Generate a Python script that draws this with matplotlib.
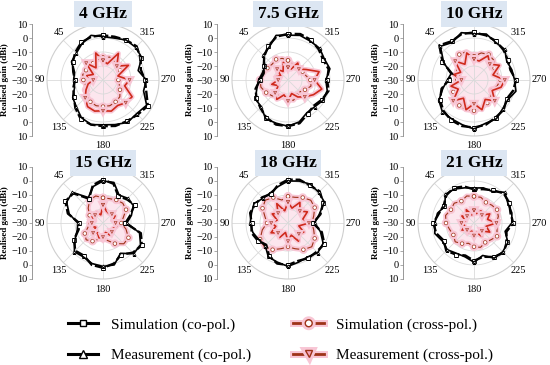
import numpy as np
import matplotlib
matplotlib.use("Agg")
import matplotlib.pyplot as plt
import matplotlib.patheffects as pe
from matplotlib.lines import Line2D

plt.rcParams['font.family'] = 'Liberation Serif'

# angle of each sample (deg), 0 at top, counter-clockwise
angles = [0, 15, 30, 45, 60, 75, 90, 105, 120, 135, 150, 165,
          180, 195, 210, 225, 240, 255, 270, 285, 300, 315, 330, 345]

titles = ["4 GHz", "7.5 GHz", "10 GHz", "15 GHz", "18 GHz", "21 GHz"]

# realised gain (dBi)
sim_co_4 = [2, 2, 1, -2, -5, -8, -10, -8, -6, -2, 2, 3, 3, 4, 4, 5, 7, 2, 0, -2, 1, 4, 3, 2]
meas_co_4 = [1, 3, 0, -3, -4, -9, -9, -9, -5, -3, 1, 3, 2, 3, 5, 4, 6, 0, 1, -4, 2, 3, 3, 1]
sim_x_4 = [-14, -15, -16, -17, -16, -15, -16, -17, -16, -14, -12, -11, -11, -11, -12, -13, -16, -18, -19, -18, -16, -14, -13, -13]
meas_x_4 = [-16, -10, -20, -13, -22, -18, -23, -19, -16, -12, -8, -7, -8, -7, -9, -7, -6, -14, -11, -19, -9, -16, -8, -18]

sim_co_7 = [3, 2, -2, -6, -10, -12, -10, -6, -4, -2, 1, 3, 3, 2, -2, -4, -2, 0, -2, 0, -1, 1, 3, 4]
meas_co_7 = [2, 3, -3, -5, -11, -11, -9, -7, -3, -3, 2, 2, 3, 1, -3, -3, -1, -1, -3, 1, 0, 2, 2, 3]
sim_x_7 = [-16, -14, -13, -14, -13, -12, -10, -10, -12, -14, -16, -17, -16, -15, -17, -18, -16, -13, -14, -17, -18, -18, -19, -18]
meas_x_7 = [-21, -17, -23, -19, -24, -21, -23, -18, -22, -17, -14, -19, -15, -20, -16, -13, -9, -5, -11, -7, -15, -19, -16, -22]

sim_co_10 = [4, 4, 2, 5, -4, -14, -12, -6, -2, 1, 3, 4, 4, 3, 1, 0, -3, -1, 0, -3, -2, 0, 2, 3]
meas_co_10 = [3, 5, 1, 4, -5, -13, -11, -7, -1, 2, 2, 3, 5, 2, 2, -1, -2, 1, -1, -2, -3, 1, 1, 4]
sim_x_10 = [-13, -9, -9, -13, -17, -19, -18, -15, -13, -11, -9, -8, -8, -9, -11, -13, -15, -13, -11, -13, -13, -10, -9, -10]
meas_x_10 = [-15, -10, -17, -11, -19, -15, -21, -13, -17, -9, -15, -8, -13, -8, -14, -9, -15, -10, -8, -16, -9, -14, -10, -16]

sim_co_15 = [1, -2, -10, 0, 1, -4, -13, -12, -6, -2, -3, 1, 2, 0, -4, 0, 2, -2, -14, -10, -4, -6, -8, -1]
meas_co_15 = [0, -3, -9, 1, 0, -5, -12, -11, -7, -1, -2, 0, 1, 1, -5, 1, 1, -3, -13, -9, -5, -5, -7, 0]
sim_x_15 = [-12, -10, -11, -15, -19, -21, -21, -19, -15, -13, -15, -18, -19, -17, -13, -9, -9, -13, -17, -15, -11, -10, -11, -12]
meas_x_15 = [-17, -24, -21, -22, -21, -24, -22, -21, -24, -20, -22, -19, -20, -23, -20, -21, -22, -20, -21, -23, -20, -21, -22, -21]

sim_co_18 = [1, -2, -6, -4, -3, -2, -4, -3, -5, -8, -3, 0, 0, -2, -1, -1, 0, -5, -12, -6, -1, 2, 1, 2]
meas_co_18 = [0, -3, -5, -5, -2, -3, -3, -4, -6, -7, -2, -1, 1, -1, -2, 0, -1, -6, -11, -7, 0, 1, 2, 1]
sim_x_18 = [-11, -13, -9, -7, -9, -13, -15, -11, -7, -6, -8, -11, -13, -11, -8, -6, -8, -11, -13, -11, -8, -7, -9, -11]
meas_x_18 = [-15, -21, -14, -20, -17, -22, -18, -21, -16, -20, -18, -23, -17, -21, -15, -19, -17, -22, -15, -19, -14, -18, -13, -19]

sim_co_21 = [-6, -3, -1, -2, -5, -4, -1, -2, -5, -2, -4, -6, -3, -5, -2, 0, -3, -6, -2, -3, -1, 0, -3, -5]
meas_co_21 = [-5, -4, -2, -1, -6, -3, -2, -1, -4, -3, -5, -5, -2, -6, -1, -1, -2, -7, -3, -2, -2, 1, -4, -4]
sim_x_21 = [-11, -10, -12, -10, -11, -9, -10, -12, -13, -11, -13, -15, -13, -12, -14, -13, -11, -13, -14, -12, -11, -12, -13, -11]
meas_x_21 = [-21, -24, -19, -23, -20, -24, -21, -23, -20, -23, -22, -24, -21, -23, -19, -22, -17, -21, -14, -20, -17, -22, -20, -23]

sim_co = [sim_co_4, sim_co_7, sim_co_10, sim_co_15, sim_co_18, sim_co_21]
meas_co = [meas_co_4, meas_co_7, meas_co_10, meas_co_15, meas_co_18, meas_co_21]
sim_x = [sim_x_4, sim_x_7, sim_x_10, sim_x_15, sim_x_18, sim_x_21]
meas_x = [meas_x_4, meas_x_7, meas_x_10, meas_x_15, meas_x_18, meas_x_21]

r_rings = [-20, -10, 0]
side_labels = ["10", "0", "\u221210", "\u221220", "\u221230", "\u221220", "\u221210", "0", "10"]

# colours
PINK = '#f8c6d5'
PINK_FILL = '#fce6ee'
BROWN = '#9e3218'
RED = '#cf2a1c'
glow = [pe.Stroke(linewidth=3.5, foreground=PINK), pe.Normal()]

W, H = 550, 365
fig = plt.figure(figsize=(5.5, 3.65), dpi=100)

# panel centres and title heights in pixels
centres_x = [103, 288, 474]
centres_y = [80, 223]
title_y = [14, 163]


def closed(vals):
    th = np.deg2rad(np.append(angles, angles[0]))
    return th, np.append(vals, vals[0])


def px(x, y):
    # pixel (from top-left) -> figure fraction
    return x / W, 1 - y / H


for i in range(6):
    cx = centres_x[i % 3]
    cy = centres_y[i // 3]
    rad = 56
    ax = fig.add_axes([(cx - rad) / W, (H - cy - rad) / H, 2 * rad / W, 2 * rad / H],
                      projection='polar')
    ax.set_theta_zero_location('N')
    ax.set_theta_direction(1)
    ax.set_ylim(-30, 10)

    # cross-pol first, so co-pol sits on top
    th, r = closed(sim_x[i])
    ax.fill(th, r, color=PINK_FILL, zorder=1)
    ax.plot(th, r, color=BROWN, lw=0.8, marker='o', ms=2.6, markevery=2, mfc='white',
            mec=BROWN, mew=0.5, path_effects=glow, zorder=2)
    th, r = closed(meas_x[i])
    ax.plot(th, r, color=RED, lw=1.2, marker='v', ms=2.2, markevery=3, mfc='#f6a7bd',
            mec=BROWN, mew=0.4, path_effects=glow, zorder=3)
    th, r = closed(sim_co[i])
    ax.plot(th, r, color='black', lw=1.7, ls=(0, (4, 1.2)), marker='s', ms=2.6,
            markevery=2, mfc='white', mec='black', mew=0.6, zorder=4)
    th, r = closed(meas_co[i])
    ax.plot(th, r, color='black', lw=1.2, marker='^', ms=2.3, markevery=3, mfc='white',
            mec='black', mew=0.5, zorder=5)

    # grid styling
    ax.set_rticks(r_rings)
    ax.set_yticklabels([])
    ax.set_thetagrids([0, 45, 90, 135, 180, 225, 270, 315], [''] * 8)
    ax.grid(color='#dadada', lw=0.6)
    ax.spines['polar'].set_color('#cfcfcf')
    ax.spines['polar'].set_linewidth(0.8)

    # angle labels placed by hand so they hug the circle
    d = 0.79 * rad
    fig.text(*px(cx - d, cy - d - 3), '45', ha='center', va='center', fontsize=7.5)
    fig.text(*px(cx - rad - 2, cy), '90', ha='right', va='center', fontsize=7.5)
    fig.text(*px(cx - d, cy + d + 3), '135', ha='center', va='center', fontsize=7.5)
    fig.text(*px(cx, cy + rad + 10), '180', ha='center', va='center', fontsize=7.5)
    fig.text(*px(cx + d, cy + d + 3), '225', ha='center', va='center', fontsize=7.5)
    fig.text(*px(cx + rad + 2, cy), '270', ha='left', va='center', fontsize=7.5)
    fig.text(*px(cx + d, cy - d - 3), '315', ha='center', va='center', fontsize=7.5)

    # left gain axis
    sx = cx - 71
    ax2 = fig.add_axes([sx / W, (H - cy - rad) / H, 0.001, 2 * rad / H])
    ax2.set_ylim(-40, 40)
    ax2.set_xticks([])
    ax2.set_yticks(np.arange(-40, 41, 10))
    ax2.set_yticklabels(side_labels[::-1], fontsize=7.5)
    ax2.tick_params(axis='y', length=2, width=0.5, color='#888888', pad=1)
    for s in ['top', 'right', 'bottom']:
        ax2.spines[s].set_visible(False)
    ax2.spines['left'].set_color('#888888')
    ax2.spines['left'].set_linewidth(0.6)
    ax2.patch.set_visible(False)
    ax2.set_ylabel('Realised gain (dBi)', fontsize=6.5, fontweight='bold', labelpad=2)

    # title box
    fig.text(*px(cx, title_y[i // 3]), titles[i], ha='center', va='center',
             fontsize=12.5, fontweight='bold',
             bbox=dict(boxstyle='square,pad=0.28', fc='#dce6f2', ec='none'), zorder=10)

handles = [
    Line2D([], [], color='black', lw=2.2, marker='s', ms=5, mfc='white', mec='black'),
    Line2D([], [], color='black', lw=2.2, marker='^', ms=6, mfc='white', mec='black'),
    Line2D([], [], color=BROWN, lw=2.0, marker='o', ms=5, mfc='white', mec=BROWN,
           path_effects=[pe.Stroke(linewidth=5, foreground=PINK), pe.Normal()]),
    Line2D([], [], color=BROWN, lw=2.0, marker='v', ms=5, mfc='#f6a7bd', mec=BROWN,
           path_effects=[pe.Stroke(linewidth=5, foreground=PINK), pe.Normal()]),
]
labels = ["Simulation (co-pol.)", "Measurement (co-pol.)",
          "Simulation (cross-pol.)", "Measurement (cross-pol.)"]
fig.legend(handles, labels, ncol=2, loc='center', bbox_to_anchor=(0.51, 0.068),
           frameon=False, fontsize=11, handlelength=2.0, handletextpad=0.8,
           columnspacing=2.8, labelspacing=1.1, numpoints=1)

fig.savefig('out.png', dpi=100)
